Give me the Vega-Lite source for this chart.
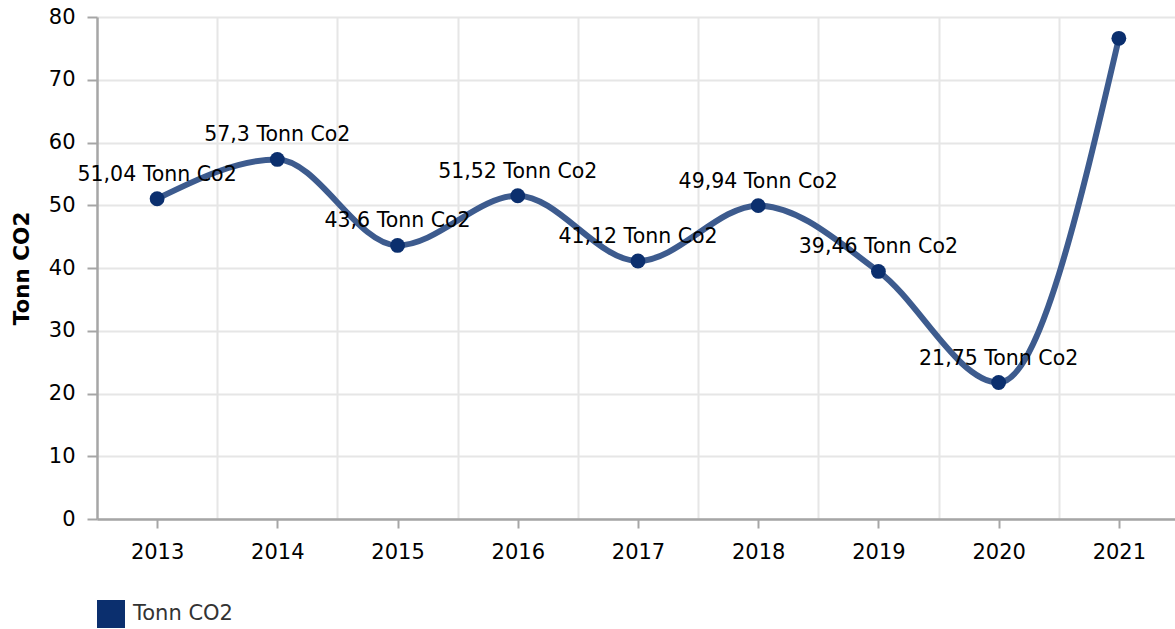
{
  "$schema": "https://vega.github.io/schema/vega-lite/v6.json",
  "autosize": {"type": "none"},
  "width": 1078,
  "height": 502,
  "padding": {"left": 97, "top": 17, "right": 0, "bottom": 110},
  "background": "white",
  "config": {
    "view": {"stroke": null},
    "font": "DejaVu Sans",
    "axis": {"labelFont": "DejaVu Sans", "titleFont": "DejaVu Sans"}
  },
  "data": {
    "values": [
      {"year": 2013, "value": 51.04, "label": "51,04 Tonn Co2", "series": "Tonn CO2"},
      {"year": 2014, "value": 57.3, "label": "57,3 Tonn Co2", "series": "Tonn CO2"},
      {"year": 2015, "value": 43.6, "label": "43,6 Tonn Co2", "series": "Tonn CO2"},
      {"year": 2016, "value": 51.52, "label": "51,52 Tonn Co2", "series": "Tonn CO2"},
      {"year": 2017, "value": 41.12, "label": "41,12 Tonn Co2", "series": "Tonn CO2"},
      {"year": 2018, "value": 49.94, "label": "49,94 Tonn Co2", "series": "Tonn CO2"},
      {"year": 2019, "value": 39.46, "label": "39,46 Tonn Co2", "series": "Tonn CO2"},
      {"year": 2020, "value": 21.75, "label": "21,75 Tonn Co2", "series": "Tonn CO2"},
      {"year": 2021, "value": 76.6, "label": "", "series": "Tonn CO2"}
    ]
  },
  "encoding": {
    "y": {
      "field": "value",
      "type": "quantitative",
      "scale": {"domain": [0, 80], "nice": false, "zero": true},
      "axis": {
        "title": "Tonn CO2",
        "titleFontSize": 21.5,
        "titleFontWeight": "bold",
        "titleColor": "#000000",
        "titlePadding": 15,
        "values": [0, 10, 20, 30, 40, 50, 60, 70, 80],
        "labelFontSize": 21,
        "labelColor": "#000000",
        "labelPadding": 12,
        "tickSize": 10,
        "tickColor": "#a6a6a6",
        "tickWidth": 2,
        "domainColor": "#a6a6a6",
        "domainWidth": 2.5,
        "grid": true,
        "gridColor": "#e6e6e6",
        "gridWidth": 2
      }
    }
  },
  "layer": [
    {
      "mark": {"type": "line", "interpolate": "monotone", "color": "#3d5b8e", "strokeWidth": 6},
      "encoding": {
        "x": {
          "field": "year",
          "type": "quantitative",
          "scale": {"domain": [2012.5, 2021.467], "nice": false, "zero": false},
          "axis": {
            "orient": "bottom",
            "title": null,
            "values": [2013, 2014, 2015, 2016, 2017, 2018, 2019, 2020, 2021],
            "format": "d",
            "grid": false,
            "labelFontSize": 21,
            "labelColor": "#000000",
            "labelPadding": 13,
            "labelFlush": false,
            "labelOverlap": false,
            "tickSize": 9,
            "tickColor": "#a6a6a6",
            "tickWidth": 2,
            "domainColor": "#a6a6a6",
            "domainWidth": 2.5
          }
        }
      }
    },
    {
      "mark": {"type": "point", "filled": true, "size": 220, "opacity": 1},
      "encoding": {
        "x": {
          "field": "year",
          "type": "quantitative",
          "axis": {
            "orient": "top",
            "title": null,
            "values": [2013.5, 2014.5, 2015.5, 2016.5, 2017.5, 2018.5, 2019.5, 2020.5],
            "grid": true,
            "gridColor": "#e6e6e6",
            "gridWidth": 2,
            "labels": false,
            "ticks": false,
            "domain": false
          }
        },
        "color": {
          "field": "series",
          "type": "nominal",
          "scale": {"range": ["#0b2f6e"]},
          "legend": {
            "title": null,
            "orient": "none",
            "legendX": 0,
            "legendY": 583,
            "padding": 0,
            "symbolType": "square",
            "symbolSize": 784,
            "symbolStrokeWidth": 0,
            "labelFontSize": 21,
            "labelColor": "#333333",
            "labelOffset": 8
          }
        }
      }
    },
    {
      "mark": {"type": "text", "dy": -24, "fontSize": 20.5, "color": "#000000", "baseline": "middle", "align": "center"},
      "encoding": {
        "x": {"field": "year", "type": "quantitative", "axis": null},
        "text": {"field": "label", "type": "nominal"}
      }
    }
  ],
  "resolve": {"axis": {"x": "independent"}}
}
